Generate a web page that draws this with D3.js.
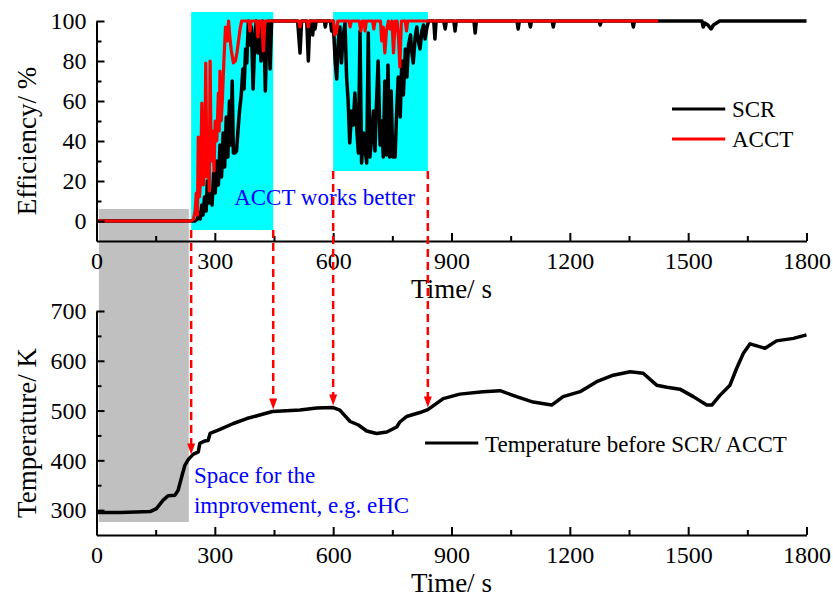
<!DOCTYPE html>
<html>
<head>
<meta charset="utf-8">
<script src="https://cdn.jsdelivr.net/npm/d3@7"></script>
<style>
  html, body { margin: 0; padding: 0; background: #ffffff; }
  svg { display: block; }
</style>
</head>
<body>
<script>
// ---------------- DATA ----------------
const xMajorTicks = [0, 300, 600, 900, 1200, 1500, 1800];
const xMinorTicks = [150, 450, 750, 1050, 1350, 1650];
const effMajorTicks = [0, 20, 40, 60, 80, 100];
const effMinorTicks = [10, 30, 50, 70, 90];
const tempMajorTicks = [300, 400, 500, 600, 700];
const tempMinorTicks = [350, 450, 550, 650];

// SCR efficiency (time s, %)
const scrTime = [0,250,256,260,263,267,270,274,278,281,285,289,293,297,301,305,309,313,317,321,325,329,333,337,341,344,347,351,355,359,363,367,371,374,378,381,385,389,393,397,401,405,409,413,417,421,425,428,432,436,440,444,
510,516,520,533,537,541,546,548,551,554,557,578,580,583,593,596,599,
602,605,609,613,617,621,625,630,634,638,642,647,651,655,660,664,668,672,677,681,685,689,693,697,702,706,710,714,719,723,727,731,735,739,743,747,751,757,761,765,770,774,778,783,787,791,796,799,803,808,812,816,820,825,829,833,838,842,
855,858,861,880,884,887,906,909,912,957,960,963,1066,1069,1072,1097,1100,1103,1155,1158,1161,1274,1277,1280,1358,1361,1364,1535,1538,1542,1550,1558,1564,1572,1580,1800];
const scrValue = [0,0,1,4,1,8,3,12,5,20,9,14,8,24,14,30,18,38,22,44,27,52,32,60,38,70,34,34,35,46,56,63,76,66,86,79,100,88,97,66,90,100,84,98,80,100,92,65,95,100,76,100,
100,84,100,100,80,100,100,93,100,96,100,100,97,100,100,95,100,
92,80,71,90,97,79,92,99,72,60,39,55,48,64,45,34,95,29,44,36,29,94,32,40,55,35,60,80,38,50,32,70,33,78,32,65,32,32,55,72,52,80,63,86,72,88,93,85,79,92,97,90,86,95,98,91,97,100,
100,91,100,100,96,100,100,95,100,100,94,100,100,96,100,100,97,100,100,97,100,100,98,100,100,97,100,100,97,99,98,96,98,99,100,100];

// ACCT efficiency (time s, %)
const acctTime = [0,240,246,250,253,256,258,261,264,267,271,274,277,280,283,286,288,291,295,298,301,305,309,311,313,316,319,323,327,331,335,338,342,347,352,356,360,364,368,386,389,392,406,409,412,419,423,427,
513,516,519,534,537,540,
601,604,608,612,640,643,646,666,670,674,678,681,684,700,703,706,720,723,727,731,735,740,744,749,753,757,762,766,769,773,783,786,789,1424];
const acctValue = [0,0,1,5,14,3,42,12,20,59,18,28,79,22,35,15,80,30,45,25,50,40,64,45,75,50,60,80,97,90,100,92,85,79,80,84,90,96,100,100,95,100,100,92,100,100,85,100,
100,97,100,100,97,100,
100,93,94,100,100,97,100,100,95,100,100,95,100,100,96,100,100,90,97,84,95,100,96,100,84,100,100,90,77,100,100,95,100,100];

// Temperature before SCR/ACCT (time s, K)
const tempTime = [0,60,100,136,152,169,182,199,207,216,224,233,245,258,262,275,283,288,313,347,381,414,446,516,558,600,617,643,664,685,710,736,761,769,786,820,840,879,921,980,1023,1065,1107,1154,1183,1226,1268,1310,1353,1386,1420,1446,1479,1513,1547,1560,1581,1606,1623,1640,1657,1695,1724,1767,1800];
const tempValue = [295,295,296,297,303,320,329,330,340,367,390,402,412,417,434,439,440,454,462,474,484,491,498,501,505,506,501,478,471,459,454,457,467,477,488,496,502,524,533,538,540,528,517,511,528,538,558,571,578,575,551,547,543,528,511,511,531,551,585,615,634,625,640,645,652];

// Highlight zones (time s) and the efficiency range they cover
const zoneStart = [240, 600];
const zoneEnd = [448, 840];
const zoneLow = [-4.5, 25];
const zoneHigh = [104.5, 104.5];
// grey zone (cold start)
const greyStart = 6, greyEnd = 234, greyEffTop = 6, greyTempBottom = 276;

// ---------------- LAYOUT ----------------
const W = 833, H = 597;
const FONT = "'Liberation Serif', 'Times New Roman', Times, serif";
const x = d3.scaleLinear().domain([0, 1800]).range([96.5, 806.5]);
const yTop = d3.scaleLinear().domain([-10, 100]).range([241, 21]);
const yBot = d3.scaleLinear().domain([250, 700]).range([535, 311]);

const svg = d3.select("body").append("svg")
  .attr("width", W).attr("height", H)
  .style("font-family", FONT);

svg.append("rect").attr("width", W).attr("height", H).attr("fill", "#ffffff");

// grey region spanning both panels
svg.append("rect")
  .attr("x", x(greyStart)).attr("y", yTop(greyEffTop))
  .attr("width", x(greyEnd) - x(greyStart))
  .attr("height", yBot(greyTempBottom) - yTop(greyEffTop))
  .attr("fill", "#c0c0c0");

// cyan zones
svg.selectAll("rect.zone").data(zoneStart).join("rect")
  .attr("class", "zone")
  .attr("x", (d, i) => x(zoneStart[i]))
  .attr("y", (d, i) => yTop(zoneHigh[i]))
  .attr("width", (d, i) => x(zoneEnd[i]) - x(zoneStart[i]))
  .attr("height", (d, i) => yTop(zoneLow[i]) - yTop(zoneHigh[i]))
  .attr("fill", "#00ffff");

// lines
const scrData = scrTime.map((t, i) => [t, scrValue[i]]);
const acctData = acctTime.map((t, i) => [t, acctValue[i]]);
const tempData = tempTime.map((t, i) => [t, tempValue[i]]);

const lineTop = d3.line().x(d => x(d[0])).y(d => yTop(d[1]));
const lineBot = d3.line().x(d => x(d[0])).y(d => yBot(d[1]));

svg.append("path").datum(scrData).attr("d", lineTop)
  .attr("fill", "none").attr("stroke", "#000").attr("stroke-width", 3.5).attr("stroke-linejoin", "round");
svg.append("path").datum(acctData).attr("d", lineTop)
  .attr("fill", "none").attr("stroke", "#ff0000").attr("stroke-width", 3.2).attr("stroke-linejoin", "round");
svg.append("path").datum(tempData).attr("d", lineBot)
  .attr("fill", "none").attr("stroke", "#000").attr("stroke-width", 3.5).attr("stroke-linejoin", "round");

// axes
function styleAxis(g) {
  g.selectAll("path.domain").attr("stroke", "#000").attr("stroke-width", 2);
  g.selectAll(".tick line").attr("stroke", "#000").attr("stroke-width", 2);
  g.selectAll("text").attr("font-family", FONT).attr("font-size", 24).attr("fill", "#000");
}
function drawPanel(yScale, yMajor, yMinor, title) {
  const y0 = yScale.range()[0];
  const gx = svg.append("g").attr("transform", `translate(0,${y0})`)
    .call(d3.axisBottom(x).tickValues(xMajorTicks).tickSizeInner(-8).tickSizeOuter(0).tickPadding(11).tickFormat(d3.format("d")));
  styleAxis(gx);
  const gxm = svg.append("g").attr("transform", `translate(0,${y0})`)
    .call(d3.axisBottom(x).tickValues(xMinorTicks).tickSizeInner(-5).tickSizeOuter(0).tickFormat(""));
  styleAxis(gxm);
  gxm.select("path.domain").remove();

  const gy = svg.append("g").attr("transform", `translate(${x(0)},0)`)
    .call(d3.axisLeft(yScale).tickValues(yMajor).tickSizeInner(-8).tickSizeOuter(0).tickPadding(10).tickFormat(d3.format("d")));
  styleAxis(gy);
  const gym = svg.append("g").attr("transform", `translate(${x(0)},0)`)
    .call(d3.axisLeft(yScale).tickValues(yMinor).tickSizeInner(-5).tickSizeOuter(0).tickFormat(""));
  styleAxis(gym);
  gym.select("path.domain").remove();

  svg.append("text").attr("x", (x.range()[0] + x.range()[1]) / 2).attr("y", y0 + 57)
    .attr("text-anchor", "middle").attr("font-size", 27).text("Time/ s");
  const yr = yScale.range();
  svg.append("text")
    .attr("transform", `translate(36,${(yr[0] + yr[1]) / 2 + 10}) rotate(-90)`)
    .attr("text-anchor", "middle").attr("font-size", 27).text(title);
}
drawPanel(yTop, effMajorTicks, effMinorTicks, "Efficiency/ %");
drawPanel(yBot, tempMajorTicks, tempMinorTicks, "Temperature/ K");

// top legend
const legTop = [{name: "SCR", color: "#000", e: 56}, {name: "ACCT", color: "#ff0000", e: 41}];
legTop.forEach(l => {
  svg.append("line").attr("x1", x(1459)).attr("x2", x(1594))
    .attr("y1", yTop(l.e)).attr("y2", yTop(l.e))
    .attr("stroke", l.color).attr("stroke-width", 3);
  svg.append("text").attr("x", x(1611)).attr("y", yTop(l.e) + 8)
    .attr("font-size", 23).text(l.name);
});

// bottom legend
svg.append("line").attr("x1", x(833)).attr("x2", x(968))
  .attr("y1", yBot(435)).attr("y2", yBot(435))
  .attr("stroke", "#000").attr("stroke-width", 3);
svg.append("text").attr("x", x(985)).attr("y", yBot(435) + 9)
  .attr("font-size", 23).text("Temperature before SCR/ ACCT");

// annotations
svg.append("text").attr("x", x(349)).attr("y", yTop(8))
  .attr("font-size", 23).attr("fill", "#0000ff").text("ACCT works better");
svg.append("text").attr("x", x(247)).attr("y", yBot(354))
  .attr("font-size", 23).attr("fill", "#0000ff").text("Space for the");
svg.append("text").attr("x", x(247)).attr("y", yBot(294))
  .attr("font-size", 23).attr("fill", "#0000ff").text("improvement, e.g. eHC");

// dashed arrows from zone edges down to the temperature curve
const interpT = t => {
  const i = d3.bisectRight(tempTime, t);
  const i0 = Math.max(0, i - 1), i1 = Math.min(tempTime.length - 1, i);
  if (i0 === i1) return tempValue[i0];
  const f = (t - tempTime[i0]) / (tempTime[i1] - tempTime[i0]);
  return tempValue[i0] + f * (tempValue[i1] - tempValue[i0]);
};
const arrows = [
  {t: zoneStart[0], from: zoneLow[0]},
  {t: zoneEnd[0], from: zoneLow[0]},
  {t: zoneStart[1], from: zoneLow[1]},
  {t: zoneEnd[1], from: zoneLow[1]}
];
arrows.forEach(a => {
  const xp = x(a.t);
  const y1 = yTop(a.from);
  const yTip = yBot(interpT(a.t)) - 2;
  svg.append("line").attr("x1", xp).attr("x2", xp).attr("y1", y1).attr("y2", yTip - 9)
    .attr("stroke", "#ff0000").attr("stroke-width", 2.5).attr("stroke-dasharray", "8,5");
  svg.append("path")
    .attr("d", `M${xp - 4},${yTip - 11} L${xp + 4},${yTip - 11} L${xp},${yTip} Z`)
    .attr("fill", "#ff0000");
});
</script>
</body>
</html>
